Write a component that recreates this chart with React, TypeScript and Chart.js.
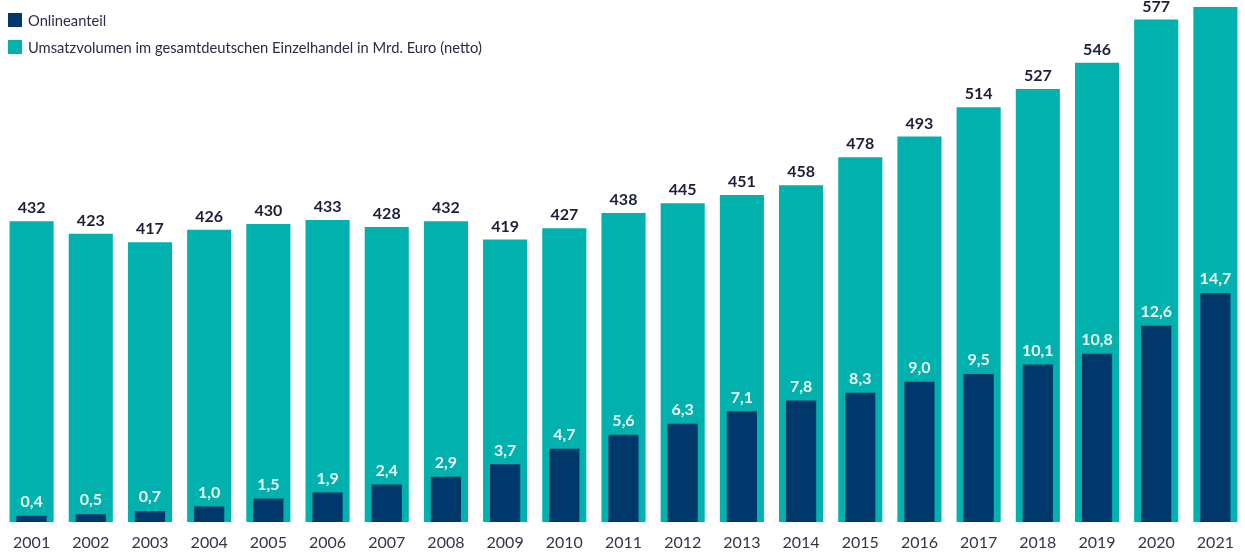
import React, { useEffect, useRef } from "react";
import { Chart, registerables } from "chart.js";

Chart.register(...registerables);

const years = [
  "2001", "2002", "2003", "2004", "2005", "2006", "2007", "2008", "2009", "2010", "2011",
  "2012", "2013", "2014", "2015", "2016", "2017", "2018", "2019", "2020", "2021",
];
const onlineShare = [0.4, 0.5, 0.7, 1.0, 1.5, 1.9, 2.4, 2.9, 3.7, 4.7, 5.6, 6.3, 7.1, 7.8, 8.3, 9.0, 9.5, 10.1, 10.8, 12.6, 14.7];
const retailVolume = [432, 423, 417, 426, 430, 433, 428, 432, 419, 427, 438, 445, 451, 458, 478, 493, 514, 527, 546, 577, 586];
const seriesNames = ["Onlineanteil", "Umsatzvolumen im gesamtdeutschen Einzelhandel in Mrd. Euro (netto)"];

const NAVY = "#00386b";
const TEAL = "#00b1ad";
const FONT = "Lato, 'Open Sans', sans-serif";

const valueLabels = {
  id: "valueLabels",
  afterDatasetsDraw(chart: any) {
    const ctx = chart.ctx;
    ctx.save();
    ctx.textAlign = "center";
    ctx.textBaseline = "bottom";
    chart.data.datasets.forEach((ds: any, i: number) => {
      const meta = chart.getDatasetMeta(i);
      meta.data.forEach((el: any, j: number) => {
        const v = ds.data[j];
        if (i === 0) {
          ctx.fillStyle = "#eef7f7";
          ctx.font = `bold 16px ${FONT}`;
          ctx.fillText(v.toFixed(1).replace(".", ","), el.x, el.y - 6);
        } else {
          ctx.fillStyle = "#1d1f3a";
          ctx.font = `bold 16px ${FONT}`;
          ctx.fillText(String(v), el.x, el.y - 5);
        }
      });
    });
    ctx.restore();
  },
};

export default function App() {
  const ref = useRef<HTMLCanvasElement | null>(null);

  useEffect(() => {
    if (!ref.current) return;
    const chart = new Chart(ref.current, {
      type: "bar",
      data: {
        labels: years,
        datasets: [
          {
            label: seriesNames[0],
            data: onlineShare,
            backgroundColor: NAVY,
            yAxisID: "y2",
            grouped: false,
            barPercentage: 0.51,
            categoryPercentage: 1,
          } as any,
          {
            label: seriesNames[1],
            data: retailVolume,
            backgroundColor: TEAL,
            yAxisID: "y",
            grouped: false,
            barPercentage: 0.745,
            categoryPercentage: 1,
          } as any,
        ],
      },
      options: {
        animation: false,
        responsive: true,
        maintainAspectRatio: false,
        layout: { padding: { left: 2, right: 0, top: 0, bottom: 0 } },
        plugins: {
          legend: { display: false },
          tooltip: { enabled: false },
        },
        scales: {
          x: {
            grid: { display: false, drawTicks: false },
            border: { display: false },
            ticks: { color: "#34344a", font: { family: FONT, size: 16 }, padding: 11 },
            afterFit: (scale: any) => {
              scale.height = 30;
            },
          },
          y: { display: false, min: 216, max: 591 },
          y2: { display: false, min: 0, max: 33.5 },
        },
      },
      plugins: [valueLabels],
    });
    return () => chart.destroy();
  }, []);

  const legendRow = (color: string, text: string, top: number) => (
    <div
      style={{
        position: "absolute",
        left: 8,
        top,
        display: "flex",
        alignItems: "center",
        height: 14,
        whiteSpace: "nowrap",
      }}
    >
      <span style={{ display: "inline-block", width: 14, height: 14, background: color, flex: "none" }} />
      <span
        style={{
          marginLeft: 6,
          fontFamily: FONT,
          fontSize: 16,
          color: "#2b2a4c",
          lineHeight: "14px",
          display: "inline-block",
          transform: "scaleX(0.92)",
          transformOrigin: "left center",
        }}
      >
        {text}
      </span>
    </div>
  );

  return (
    <div style={{ position: "absolute", left: 0, top: 0, width: 1245, height: 552, background: "#fff" }}>
      <canvas ref={ref} />
      {legendRow(NAVY, seriesNames[0], 13)}
      {legendRow(TEAL, seriesNames[1], 40)}
    </div>
  );
}
